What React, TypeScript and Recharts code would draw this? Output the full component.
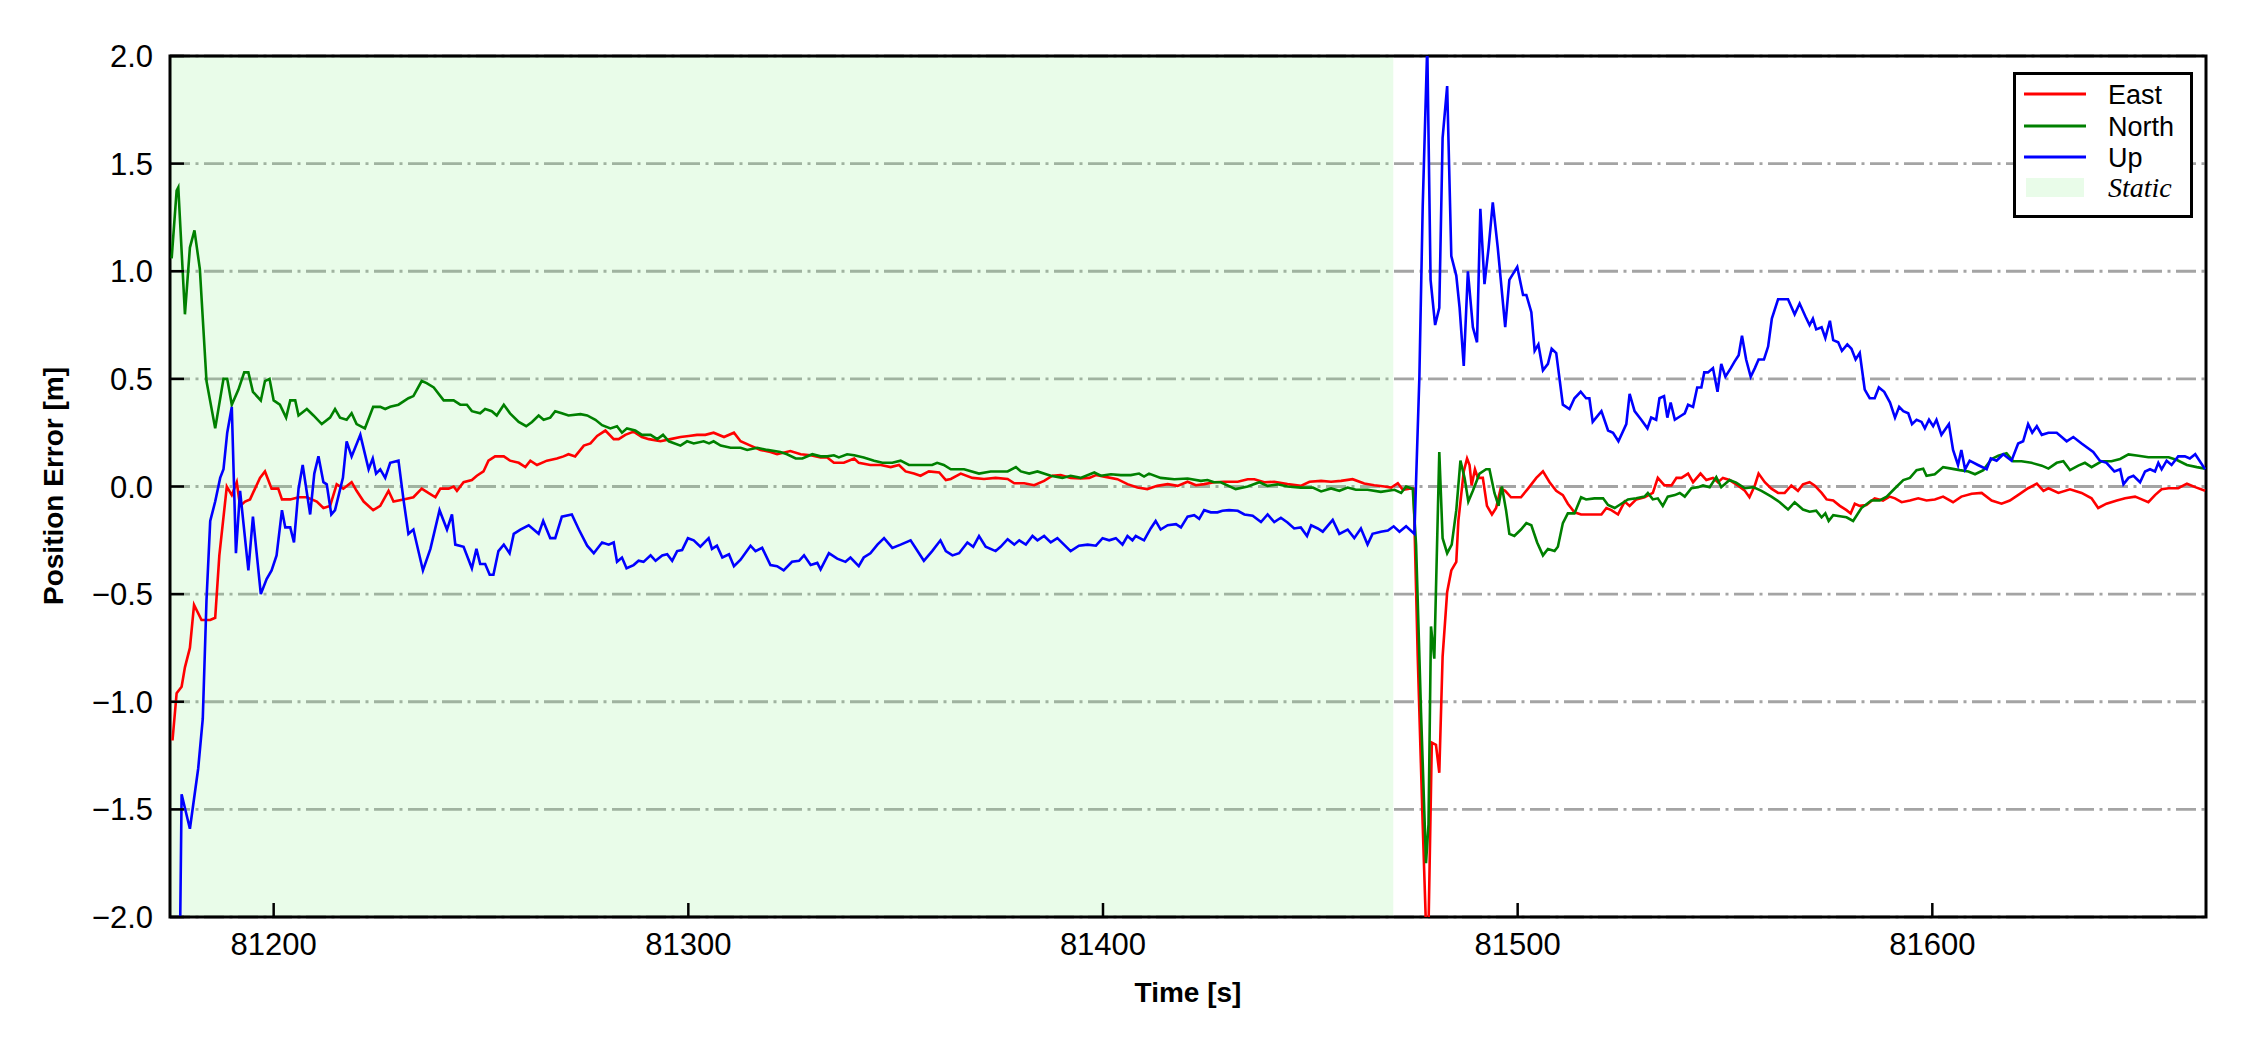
import { CartesianGrid, Line, LineChart, ReferenceArea, XAxis, YAxis } from "recharts";

const FONT = "'Liberation Sans', Arial, sans-serif";

const timeTicks = [81200, 81300, 81400, 81500, 81600];
const errorTicks = [-2, -1.5, -1, -0.5, 0, 0.5, 1, 1.5, 2];
const timeDomain = [81175, 81666];
const staticSpan = [81175, 81470];

// [time s, error m]
const east: [number, number][] = [
  [81175.6, -1.18], [81176.6, -0.96], [81177.8, -0.93], [81178.6, -0.84], [81179.8, -0.75], [81180.8, -0.55],
  [81182.6, -0.62], [81184.7, -0.62], [81185.9, -0.61], [81186.9, -0.32], [81188.7, 0.0], [81189.9, -0.04],
  [81191.1, 0.02], [81191.9, -0.09], [81193.1, -0.07], [81194.3, -0.06], [81195.5, -0.01], [81196.7, 0.04],
  [81197.9, 0.07], [81199.5, -0.01], [81201.1, -0.01], [81202, -0.06], [81204, -0.06], [81206, -0.05],
  [81208, -0.05], [81210.4, -0.07], [81212, -0.1], [81213.6, -0.09], [81215.2, 0.01], [81216.8, -0.01],
  [81218.8, 0.02], [81220, -0.02], [81221.7, -0.07], [81224, -0.11], [81225.7, -0.09], [81227.7, -0.02],
  [81228.9, -0.07], [81231.3, -0.06], [81233.7, -0.05], [81235.7, -0.01], [81237.3, -0.03], [81239, -0.05],
  [81240.2, -0.01], [81242.2, -0.01], [81243.4, 0.0], [81244.2, -0.02], [81245.8, 0.02], [81247.8, 0.03],
  [81249, 0.05], [81250.6, 0.07], [81251.8, 0.12], [81253.4, 0.14], [81255.5, 0.14], [81257, 0.12],
  [81259.1, 0.11], [81260.7, 0.09], [81261.9, 0.12], [81263.5, 0.1], [81265.9, 0.12], [81268.3, 0.13],
  [81269.9, 0.14], [81271.1, 0.15], [81272.7, 0.14], [81274.8, 0.19], [81276.4, 0.2], [81278, 0.235],
  [81280, 0.26], [81282, 0.22], [81283.2, 0.22], [81284.8, 0.24], [81286.8, 0.255], [81288.8, 0.23],
  [81290.5, 0.22], [81293.3, 0.21], [81295.7, 0.22], [81298.1, 0.23], [81300.1, 0.235], [81302.1, 0.24],
  [81304.1, 0.24], [81306.1, 0.25], [81308.6, 0.23], [81311, 0.25], [81312.6, 0.21], [81315, 0.19],
  [81317.4, 0.17], [81319.8, 0.16], [81321.4, 0.15], [81324.6, 0.165], [81327.1, 0.15], [81329.5, 0.145],
  [81331.9, 0.135], [81333.5, 0.135], [81335.1, 0.11], [81337.5, 0.11], [81340, 0.13], [81341.1, 0.11],
  [81343.9, 0.1], [81346.4, 0.1], [81348.8, 0.09], [81350.8, 0.1], [81352.4, 0.07], [81354.4, 0.06],
  [81356, 0.05], [81358, 0.07], [81360.5, 0.065], [81362.1, 0.03], [81363.3, 0.035], [81365.7, 0.06],
  [81368.5, 0.04], [81371.3, 0.035], [81374.1, 0.04], [81377, 0.035], [81378.6, 0.015], [81381, 0.015],
  [81383.4, 0.006], [81385.8, 0.026], [81387.8, 0.05], [81389.8, 0.053], [81392.2, 0.04], [81394.6, 0.037],
  [81396.7, 0.04], [81398.3, 0.053], [81400.3, 0.046], [81403.5, 0.034], [81405.9, 0.011], [81408.3, -0.005],
  [81410.7, -0.012], [81413.1, 0.003], [81415.6, 0.011], [81418, 0.003], [81420.4, 0.022], [81422.4, 0.006],
  [81424.4, 0.011], [81426.8, 0.02], [81429.2, 0.022], [81432.5, 0.022], [81434.9, 0.034], [81436.5, 0.034],
  [81438.9, 0.02], [81441.3, 0.022], [81444.5, 0.011], [81447.7, 0.003], [81449.8, 0.022], [81452.6, 0.026],
  [81455, 0.022], [81457.4, 0.026], [81460.2, 0.034], [81463, 0.014], [81465.4, 0.006], [81467.9, 0.0],
  [81469.5, -0.005], [81471.1, 0.015], [81472.3, -0.015], [81473.9, -0.01], [81474.9, -0.01],
  [81475.9, -0.79], [81477.1, -1.57], [81477.9, -2.05], [81478.5, -2.05], [81479.3, -1.19], [81480.3, -1.2],
  [81481.1, -1.33], [81481.9, -0.79], [81483, -0.49], [81484, -0.39], [81485.2, -0.35], [81485.7, -0.16],
  [81487, 0.07], [81487.8, 0.13], [81488.4, 0.1], [81488.9, 0.005], [81489.7, 0.08], [81490.4, 0.04],
  [81491.6, 0.04], [81492.6, -0.09], [81493.8, -0.13], [81494.8, -0.1], [81495.9, -0.01], [81497, -0.02],
  [81498.4, -0.05], [81500.8, -0.05], [81502.5, -0.01], [81504.5, 0.04], [81506.1, 0.07], [81507.7, 0.02],
  [81509.3, -0.02], [81510.9, -0.04], [81512.1, -0.08], [81513.7, -0.12], [81515.3, -0.13], [81516.9, -0.13],
  [81518.5, -0.13], [81520.2, -0.13], [81521.4, -0.1], [81522.6, -0.11], [81524.2, -0.13], [81525.8, -0.07],
  [81527, -0.09], [81528.6, -0.06], [81530.6, -0.05], [81532.6, -0.03], [81533.8, 0.04], [81535.4, 0.005],
  [81537.1, 0.005], [81538.3, 0.04], [81539.5, 0.04], [81541.1, 0.06], [81542.3, 0.02], [81544.1, 0.06],
  [81545.5, 0.03], [81547.1, 0.04], [81548.3, 0.02], [81549.5, 0.04], [81551.1, 0.03], [81553.1, 0.005],
  [81554.8, -0.02], [81555.9, -0.05], [81557.2, 0.005], [81558.1, 0.06], [81559.6, 0.02], [81561.2, -0.01],
  [81562.8, -0.03], [81564.4, -0.03], [81566, 0.005], [81567.6, -0.02], [81568.8, 0.01], [81570.4, 0.02],
  [81571.6, 0.005], [81573.3, -0.03], [81574.5, -0.06], [81576.1, -0.065], [81577.7, -0.09], [81579.3, -0.11],
  [81580.3, -0.125], [81581.3, -0.08], [81582.5, -0.09], [81584.1, -0.086], [81586.1, -0.055], [81588.1, -0.065],
  [81589.7, -0.047], [81591, -0.055], [81592.6, -0.073], [81594.6, -0.065], [81596.6, -0.055], [81598.6, -0.065],
  [81600.6, -0.06], [81602.6, -0.047], [81605, -0.073], [81607, -0.047], [81609.5, -0.034], [81611.9, -0.03],
  [81614.3, -0.065], [81616.7, -0.08], [81618.7, -0.065], [81621.1, -0.034], [81623.1, -0.008], [81625.2, 0.013],
  [81626.8, -0.02], [81628, -0.008], [81630.4, -0.03], [81633.2, -0.013], [81636, -0.03], [81638.4, -0.055],
  [81640, -0.1], [81642, -0.08], [81644.5, -0.065], [81646.5, -0.055], [81648.9, -0.047], [81650.5, -0.06],
  [81652.1, -0.073], [81653.7, -0.04], [81655.3, -0.013], [81657, -0.008], [81659.3, -0.008], [81661.4, 0.013],
  [81663.4, -0.003], [81665.8, -0.02],
];

const north: [number, number][] = [
  [81175.4, 1.06], [81176.6, 1.375], [81177, 1.39], [81178.6, 0.8], [81179.8, 1.11], [81180.9, 1.19],
  [81182.2, 1.01], [81183.8, 0.49], [81185.9, 0.27], [81187.9, 0.5], [81188.8, 0.5], [81189.9, 0.38],
  [81191.5, 0.45], [81192.9, 0.53], [81193.9, 0.53], [81195, 0.44], [81196.9, 0.4], [81197.9, 0.49],
  [81199, 0.5], [81200, 0.4], [81201.5, 0.38], [81203, 0.32], [81204, 0.4], [81205.2, 0.4],
  [81206, 0.33], [81208, 0.36], [81209.6, 0.33], [81211.6, 0.29], [81213.6, 0.32], [81214.8, 0.36],
  [81216, 0.32], [81217.6, 0.31], [81218.8, 0.34], [81220, 0.29], [81222, 0.27], [81224, 0.37],
  [81225.7, 0.37], [81226.9, 0.36], [81228.1, 0.37], [81230.1, 0.38], [81232.5, 0.41], [81233.7, 0.42],
  [81235.7, 0.49], [81236.9, 0.48], [81238.6, 0.46], [81241, 0.4], [81243.4, 0.4], [81245, 0.38],
  [81246.6, 0.38], [81247.8, 0.35], [81249.8, 0.34], [81251, 0.36], [81252.6, 0.35], [81253.8, 0.33],
  [81255.5, 0.38], [81257, 0.34], [81259.1, 0.3], [81260.9, 0.28], [81262.3, 0.3], [81263.9, 0.33],
  [81265.1, 0.31], [81266.7, 0.32], [81267.9, 0.35], [81269.5, 0.34], [81271.1, 0.33], [81274, 0.336],
  [81275.6, 0.33], [81277.6, 0.31], [81279.2, 0.285], [81281.2, 0.27], [81282.8, 0.28], [81284, 0.25],
  [81285.2, 0.27], [81287.2, 0.26], [81288.8, 0.24], [81290.9, 0.24], [81292.5, 0.22], [81293.9, 0.24],
  [81295.3, 0.21], [81298.1, 0.19], [81299.7, 0.21], [81301.3, 0.2], [81303.7, 0.21], [81305, 0.2],
  [81306.1, 0.21], [81307.8, 0.19], [81310.2, 0.18], [81312.6, 0.18], [81314.2, 0.17], [81316.6, 0.18],
  [81319, 0.17], [81322.2, 0.16], [81323.8, 0.15], [81325.9, 0.13], [81327.5, 0.13], [81329.9, 0.15],
  [81331.9, 0.14], [81333.5, 0.14], [81335.1, 0.145], [81336.3, 0.135], [81338.3, 0.15], [81340, 0.145],
  [81342.3, 0.135], [81344.8, 0.12], [81346.8, 0.11], [81349.2, 0.11], [81351.2, 0.12], [81353.2, 0.1],
  [81355.2, 0.1], [81357.2, 0.1], [81358.8, 0.1], [81360, 0.11], [81361.6, 0.1], [81363.3, 0.08],
  [81366.5, 0.08], [81370.1, 0.06], [81372.9, 0.07], [81375.3, 0.07], [81377, 0.07], [81379, 0.09],
  [81380.2, 0.07], [81382.2, 0.06], [81384.2, 0.07], [81387.4, 0.05], [81390.2, 0.04], [81392.2, 0.05],
  [81394.6, 0.04], [81397.9, 0.065], [81399.5, 0.05], [81401.9, 0.057], [81404.3, 0.053], [81406.7, 0.053],
  [81408.7, 0.06], [81409.9, 0.046], [81411.1, 0.06], [81413.9, 0.04], [81417.2, 0.034], [81420.4, 0.037],
  [81423.6, 0.026], [81425.2, 0.03], [81426.8, 0.02], [81428.4, 0.02], [81432, -0.012], [81434.9, 0.0],
  [81437.7, 0.02], [81439.7, 0.003], [81442.1, 0.01], [81444.5, 0.0], [81447.7, -0.005], [81450.6, -0.005],
  [81452.6, -0.023], [81455, -0.009], [81457, -0.02], [81459, -0.005], [81461, -0.015], [81463.8, -0.015],
  [81467, -0.025], [81470.3, -0.015], [81471.9, -0.03], [81473.1, 0.0], [81474.7, -0.01],
  [81475.5, -0.27], [81476.7, -1.05], [81477.9, -1.75], [81478.5, -1.57], [81479.1, -0.65], [81479.9, -0.8],
  [81481.1, 0.16], [81481.9, -0.24], [81483, -0.31], [81484.1, -0.27], [81485.2, -0.11], [81486.2, 0.12],
  [81487.2, 0.04], [81488.1, -0.07], [81489.2, -0.02], [81490.8, 0.06], [81492.4, 0.08], [81493.2, 0.08],
  [81494.4, -0.03], [81495.4, -0.09], [81496.2, 0.0], [81497.2, -0.11], [81498, -0.22], [81499.2, -0.23],
  [81500.8, -0.2], [81502.1, -0.17], [81503.3, -0.18], [81504.7, -0.26], [81506.1, -0.32], [81507.3, -0.29],
  [81508.9, -0.3], [81509.7, -0.28], [81510.9, -0.17], [81512.1, -0.125], [81513.7, -0.125], [81515.3, -0.05],
  [81516.5, -0.06], [81518.5, -0.055], [81520.6, -0.055], [81521.8, -0.086], [81523.4, -0.1], [81525, -0.08],
  [81526.6, -0.06], [81528.6, -0.055], [81530.6, -0.047], [81531.4, -0.03], [81532.6, -0.06], [81533.8, -0.055],
  [81535, -0.09], [81536.2, -0.047], [81537.9, -0.04], [81539.1, -0.03], [81540.3, -0.047], [81541.9, -0.008],
  [81543.5, -0.003], [81544.7, 0.005], [81546.3, -0.003], [81547.9, 0.044], [81549.1, -0.003], [81551.1, 0.03],
  [81552.7, 0.018], [81554.8, -0.008], [81556.8, -0.003], [81558.8, -0.02], [81561.2, -0.047], [81563.2, -0.073],
  [81565.2, -0.107], [81566.8, -0.073], [81568.8, -0.107], [81570.4, -0.117], [81572, -0.112], [81573.3, -0.143],
  [81574.2, -0.125], [81575, -0.16], [81576.1, -0.133], [81577.7, -0.138], [81579.3, -0.143], [81580.9, -0.16],
  [81582.9, -0.1], [81585.3, -0.065], [81587.3, -0.065], [81589, -0.047], [81591, -0.008], [81593, 0.03],
  [81594.6, 0.04], [81596.2, 0.076], [81597.8, 0.083], [81598.6, 0.05], [81600.6, 0.057], [81602.6, 0.09],
  [81604.6, 0.083], [81606.6, 0.076], [81608.7, 0.07], [81610.3, 0.057], [81612.3, 0.076], [81614.3, 0.128],
  [81615.9, 0.143], [81617.9, 0.154], [81619.5, 0.117], [81621.5, 0.117], [81623.9, 0.11], [81626.4, 0.097],
  [81628, 0.083], [81630, 0.11], [81631.6, 0.117], [81633.2, 0.076], [81635.2, 0.097], [81636.8, 0.11],
  [81638.4, 0.09], [81640.8, 0.117], [81643.2, 0.117], [81645.3, 0.128], [81647.3, 0.149], [81649.7, 0.143],
  [81652.1, 0.136], [81655.3, 0.136], [81657, 0.136], [81659, 0.123], [81661.4, 0.1], [81663.8, 0.09],
  [81665.8, 0.083],
];

const up: [number, number][] = [
  [81175.5, -3.0], [81177.3, -2.3], [81177.8, -1.43], [81179.8, -1.59], [81181.8, -1.31], [81182.9, -1.08],
  [81183.8, -0.53], [81184.7, -0.16], [81185.9, -0.07], [81187.1, 0.04], [81187.9, 0.08], [81188.8, 0.25],
  [81189.9, 0.37], [81190.9, -0.31], [81191.9, -0.02], [81193.9, -0.39], [81195, -0.14], [81196.9, -0.5],
  [81198.3, -0.43], [81199.5, -0.39], [81200.7, -0.32], [81202, -0.11], [81202.8, -0.19], [81204, -0.19],
  [81204.9, -0.26], [81206, -0.01], [81207, 0.1], [81208.8, -0.13], [81209.8, 0.06], [81210.8, 0.14],
  [81212, 0.02], [81212.8, 0.01], [81213.9, -0.13], [81214.8, -0.11], [81216.7, 0.04], [81217.6, 0.21],
  [81218.8, 0.14], [81220.9, 0.24], [81222.9, 0.08], [81223.9, 0.13], [81224.7, 0.06], [81225.7, 0.08],
  [81226.9, 0.04], [81228.1, 0.11], [81230.1, 0.12], [81231.3, -0.06], [81232.5, -0.22], [81233.7, -0.2],
  [81236, -0.39], [81237.8, -0.29], [81240, -0.11], [81241.8, -0.2], [81243, -0.13], [81243.8, -0.27],
  [81245.8, -0.28], [81247.8, -0.38], [81248.9, -0.29], [81249.8, -0.36], [81251, -0.36], [81252.1, -0.41],
  [81253, -0.41], [81254.2, -0.3], [81255.5, -0.27], [81256.9, -0.31], [81257.9, -0.22], [81259.5, -0.2],
  [81261.5, -0.18], [81263.9, -0.22], [81265, -0.16], [81266.7, -0.24], [81267.9, -0.24], [81269.5, -0.14],
  [81271.9, -0.13], [81273.6, -0.2], [81275.6, -0.275], [81277.2, -0.31], [81279.2, -0.26], [81280.8, -0.27],
  [81282, -0.26], [81282.8, -0.35], [81284, -0.33], [81285.1, -0.38], [81286.8, -0.365], [81288, -0.345],
  [81289.2, -0.35], [81290.9, -0.32], [81292.1, -0.345], [81293.7, -0.32], [81294.9, -0.315], [81296.1, -0.345],
  [81297.3, -0.3], [81298.5, -0.295], [81299.9, -0.24], [81301.3, -0.25], [81302.9, -0.28], [81304.9, -0.24],
  [81305.7, -0.29], [81306.9, -0.275], [81308.2, -0.33], [81309.8, -0.315], [81311, -0.37], [81312.6, -0.34],
  [81315, -0.275], [81316.2, -0.3], [81317.8, -0.285], [81319.8, -0.365], [81321.4, -0.37], [81323, -0.39],
  [81325, -0.35], [81326.7, -0.345], [81327.9, -0.32], [81329.5, -0.365], [81331.1, -0.355], [81331.9, -0.385],
  [81333.9, -0.31], [81335.9, -0.335], [81337.9, -0.35], [81339.1, -0.33], [81341.1, -0.37], [81342.3, -0.33],
  [81343.9, -0.31], [81345.6, -0.27], [81347.2, -0.24], [81349.2, -0.285], [81351.2, -0.27], [81353.6, -0.25],
  [81356.8, -0.345], [81358.8, -0.3], [81360.8, -0.25], [81362.1, -0.3], [81363.7, -0.32], [81365.3, -0.31],
  [81367.3, -0.26], [81368.7, -0.28], [81370.1, -0.23], [81371.7, -0.28], [81374.1, -0.3], [81375.3, -0.28],
  [81377, -0.245], [81378.6, -0.27], [81379.8, -0.25], [81381.4, -0.27], [81383, -0.23], [81384.2, -0.25],
  [81385.8, -0.23], [81387.4, -0.26], [81389, -0.24], [81390.6, -0.27], [81392.2, -0.3], [81394.2, -0.275],
  [81396.3, -0.27], [81398.3, -0.275], [81399.9, -0.24], [81401.5, -0.25], [81403.1, -0.24], [81404.7, -0.27],
  [81405.9, -0.23], [81407.1, -0.25], [81407.9, -0.23], [81409.9, -0.25], [81411.5, -0.195], [81412.7, -0.16],
  [81413.9, -0.2], [81415.6, -0.18], [81417.6, -0.175], [81418.8, -0.19], [81420.4, -0.14], [81422, -0.133],
  [81423.2, -0.15], [81424.4, -0.11], [81426, -0.12], [81427.6, -0.12], [81428.8, -0.113], [81430.4, -0.11],
  [81432.5, -0.113], [81434.1, -0.13], [81436.1, -0.136], [81438.1, -0.165], [81439.7, -0.13], [81441.3, -0.165],
  [81442.9, -0.145], [81444.5, -0.167], [81446.1, -0.195], [81447.7, -0.19], [81449.2, -0.23], [81450.2, -0.18],
  [81451.8, -0.195], [81453, -0.21], [81455.4, -0.155], [81457, -0.22], [81459, -0.2], [81460.6, -0.24],
  [81462.2, -0.195], [81463.8, -0.27], [81465, -0.22], [81467, -0.21], [81468.7, -0.205], [81470.1, -0.185],
  [81471.5, -0.21], [81473.1, -0.185], [81475.1, -0.22],
  [81476.3, 0.51], [81477.1, 1.3], [81478.2, 2.05], [81479, 0.96], [81480.1, 0.75], [81481.1, 0.83],
  [81481.9, 1.62], [81483, 1.86], [81484, 1.07], [81485.2, 0.98], [81486, 0.83], [81487, 0.56],
  [81488, 1.0], [81489.2, 0.74], [81490.2, 0.67], [81491, 1.29], [81492, 0.94], [81493, 1.11],
  [81494, 1.32], [81495.2, 1.11], [81497, 0.74], [81498, 0.96], [81499.9, 1.02], [81501.3, 0.89],
  [81502.1, 0.89], [81503.3, 0.81], [81504.1, 0.63], [81505, 0.66], [81506.1, 0.54], [81507.3, 0.57],
  [81508.2, 0.64], [81509.3, 0.62], [81510.9, 0.38], [81512.5, 0.36], [81513.7, 0.41], [81515.2, 0.44],
  [81516.5, 0.41], [81517.3, 0.41], [81518.1, 0.3], [81520.2, 0.35], [81521.8, 0.26], [81523, 0.25],
  [81524.3, 0.21], [81526.2, 0.29], [81527, 0.43], [81528.2, 0.35], [81529.8, 0.31], [81531.3, 0.27],
  [81532.2, 0.32], [81533.4, 0.31], [81534.2, 0.41], [81535.3, 0.42], [81536.1, 0.32], [81536.9, 0.39],
  [81537.9, 0.31], [81539.5, 0.33], [81540.3, 0.34], [81541.1, 0.38], [81542.3, 0.37], [81543.3, 0.46],
  [81544.3, 0.46], [81545, 0.53], [81545.9, 0.53], [81547.1, 0.55], [81548.2, 0.44], [81549.1, 0.57],
  [81550.1, 0.51], [81551.4, 0.55], [81552.3, 0.58], [81553.3, 0.61], [81554.1, 0.7], [81555.1, 0.59],
  [81556.2, 0.51], [81557.2, 0.55], [81558.1, 0.59], [81559.4, 0.59], [81560.4, 0.65], [81561.3, 0.78],
  [81562.8, 0.87], [81564, 0.87], [81565.2, 0.87], [81566.8, 0.8], [81568, 0.85], [81569.4, 0.79],
  [81570.4, 0.75], [81571.2, 0.78], [81572, 0.73], [81573.3, 0.74], [81574.2, 0.69], [81575.3, 0.77],
  [81576.1, 0.68], [81577.3, 0.67], [81578.2, 0.63], [81579.5, 0.66], [81580.5, 0.64], [81581.5, 0.59],
  [81582.5, 0.62], [81583.7, 0.45], [81584.9, 0.41], [81586.1, 0.41], [81587.1, 0.46], [81588.4, 0.44],
  [81589.8, 0.39], [81591, 0.32], [81592, 0.37], [81593, 0.35], [81594.2, 0.34], [81595.1, 0.29],
  [81596.2, 0.31], [81597.4, 0.3], [81598.2, 0.27], [81599.2, 0.31], [81600.2, 0.28], [81601, 0.31],
  [81602.2, 0.24], [81604, 0.29], [81605, 0.17], [81606.2, 0.1], [81607, 0.17], [81607.9, 0.08],
  [81609, 0.12], [81611, 0.1], [81613.1, 0.08], [81614.1, 0.13], [81615.5, 0.12], [81617.1, 0.15],
  [81619.1, 0.12], [81620.7, 0.2], [81621.9, 0.21], [81623.1, 0.29], [81624.1, 0.25], [81625.2, 0.28],
  [81626.4, 0.24], [81628, 0.25], [81630, 0.25], [81631.2, 0.23], [81632.4, 0.21], [81634, 0.23],
  [81636, 0.2], [81638.8, 0.16], [81640.4, 0.12], [81642, 0.11], [81643.9, 0.07], [81645.3, 0.08],
  [81646.1, 0.01], [81647.3, 0.04], [81648.5, 0.05], [81650.1, 0.02], [81651.3, 0.07], [81652.5, 0.08],
  [81653.7, 0.07], [81654.5, 0.11], [81655.3, 0.08], [81656.5, 0.12], [81657.7, 0.1], [81659.3, 0.14],
  [81660.9, 0.14], [81662.1, 0.13], [81663.4, 0.15], [81665.8, 0.08],
];

const series = [
  { name: "East", color: "#ff0000", points: east },
  { name: "North", color: "#008000", points: north },
  { name: "Up", color: "#0000ff", points: up },
];

const STATIC_FILL = "#90ee90";

function TimeTick({ x, y, payload }: any) {
  return (
    <g>
      <line x1={x} x2={x} y1={y} y2={y - 14} stroke="#000" strokeWidth={2.5} />
      <text x={x} y={y + 38} textAnchor="middle" fontSize={31} fontFamily={FONT} fill="#000">
        {payload.value}
      </text>
    </g>
  );
}

function ErrorTick({ x, y, payload }: any) {
  const label = Number(payload.value).toFixed(1).replace("-", "\u2212");
  return (
    <g>
      <line x1={x} x2={x + 14} y1={y} y2={y} stroke="#000" strokeWidth={2.5} />
      <text x={x - 17} y={y + 11} textAnchor="end" fontSize={31} fontFamily={FONT} fill="#000">
        {label}
      </text>
    </g>
  );
}

function LegendBox() {
  const rows = [21, 53, 84];
  return (
    <svg width={180} height={146} style={{ position: "absolute", left: 2013, top: 72 }}>
      <rect x={1.5} y={1.5} width={177} height={143} fill="#fff" stroke="#000" strokeWidth={3} />
      {series.map((s, i) => (
        <g key={s.name}>
          <line x1={11} x2={73} y1={rows[i] + 1} y2={rows[i] + 1} stroke={s.color} strokeWidth={3} />
          <text x={95} y={rows[i] + 11} fontSize={27} fontFamily={FONT} fill="#000">
            {s.name}
          </text>
        </g>
      ))}
      <rect x={13} y={106} width={58} height={19} fill={STATIC_FILL} fillOpacity={0.2} />
      <text x={95} y={125} fontSize={28} fontStyle="italic" fontFamily="'Liberation Serif', 'Times New Roman', serif" fill="#000">
        Static
      </text>
    </svg>
  );
}

export default function App() {
  return (
    <div style={{ position: "relative", width: 2250, height: 1050, background: "#fff" }}>
      <style>{`body { margin: 0; }`}</style>
      <LineChart width={2250} height={1050} margin={{ top: 56, right: 44, bottom: 73, left: 50 }}>
        <CartesianGrid
          vertical={false}
          stroke="#a4a4a4"
          strokeWidth={2.8}
          strokeDasharray="20 5.5 3 5.5"
        />
        <XAxis
          dataKey="t"
          type="number"
          domain={timeDomain}
          ticks={timeTicks}
          interval={0}
          allowDataOverflow
          axisLine={false}
          tickLine={false}
          tickSize={0}
          tickMargin={0}
          height={60}
          tick={(p: any) => <TimeTick {...p} />}
        />
        <YAxis
          type="number"
          domain={[-2, 2]}
          ticks={errorTicks}
          interval={0}
          allowDataOverflow
          axisLine={false}
          tickLine={false}
          tickSize={0}
          tickMargin={0}
          width={120}
          tick={(p: any) => <ErrorTick {...p} />}
        />
        <ReferenceArea
          x1={staticSpan[0]}
          x2={staticSpan[1]}
          y1={-2}
          y2={2}
          fill={STATIC_FILL}
          fillOpacity={0.2}
          stroke="none"
        />
        {series.map((s) => (
          <Line
            key={s.name}
            name={s.name}
            data={s.points.map(([t, v]) => ({ t, v }))}
            dataKey="v"
            type="linear"
            stroke={s.color}
            strokeWidth={2.6}
            dot={false}
            activeDot={false}
            isAnimationActive={false}
          />
        ))}
        <ReferenceArea
          x1={timeDomain[0]}
          x2={timeDomain[1]}
          y1={-2}
          y2={2}
          fill="none"
          stroke="#000"
          strokeWidth={3}
        />
      </LineChart>
      <svg width={2250} height={1050} style={{ position: "absolute", left: 0, top: 0, pointerEvents: "none" }}>
        <text
          transform="translate(63,486) rotate(-90)"
          textAnchor="middle"
          fontSize={28}
          fontWeight="bold"
          fontFamily={FONT}
          fill="#000"
        >
          Position Error [m]
        </text>
        <text x={1188} y={1002} textAnchor="middle" fontSize={28} fontWeight="bold" fontFamily={FONT} fill="#000">
          Time [s]
        </text>
      </svg>
      <LegendBox />
    </div>
  );
}
